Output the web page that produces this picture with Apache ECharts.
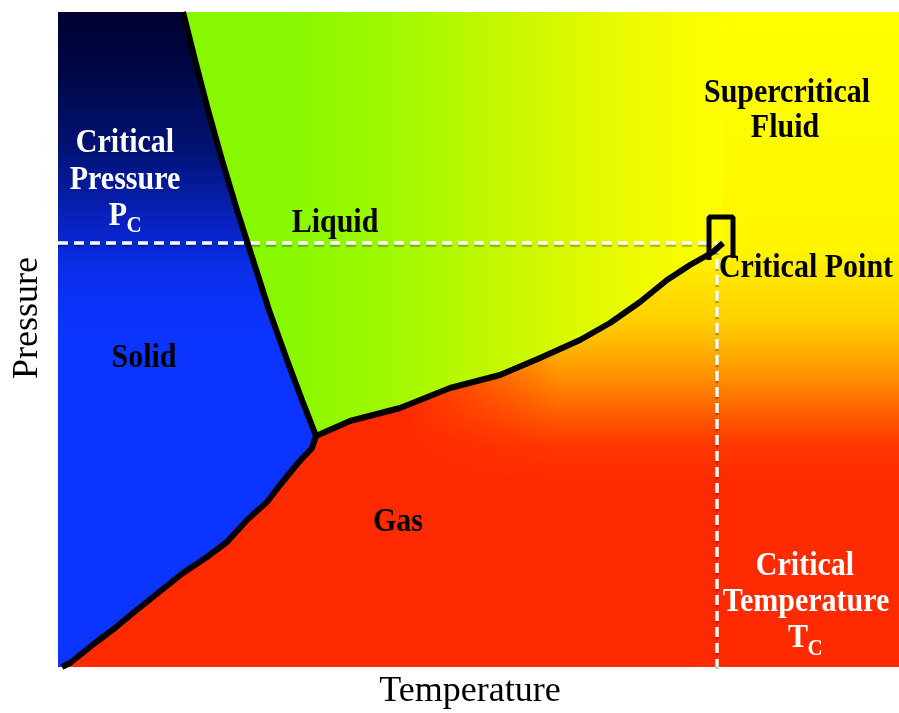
<!DOCTYPE html>
<html>
<head>
<meta charset="utf-8">
<title>Phase diagram</title>
<script src="https://cdn.jsdelivr.net/npm/echarts@6/dist/echarts.min.js"></script>
<style>
html, body { margin: 0; padding: 0; background: #fff; }
#chart { width: 899px; height: 713px; }
</style>
</head>
<body>
<div id="chart"></div>
<script>
// temperature (x) and pressure (y) in arbitrary units
const tMax = 841;
const pMax = 655;

// solid / liquid boundary, from the top edge down to the triple point
const meltCurve = [[125, 655], [137, 607], [150, 557], [164, 507], [179, 457],
  [195, 407], [211, 357], [229, 307], [244, 267], [258, 231]];
// solid / gas boundary, from the bottom edge up to the triple point
const sublimCurve = [[4, 0], [12, 4], [37, 24], [57, 39], [75, 54], [95, 70],
  [125, 94], [149, 110], [169, 125], [189, 147], [209, 165], [222, 182],
  [240, 204], [254, 219], [258, 231]];
// liquid / gas boundary, from the triple point up to the critical point
const vaporCurve = [[258, 231], [292, 246], [342, 259], [392, 279], [442, 292],
  [482, 309], [522, 327], [552, 344], [582, 365], [609, 387], [632, 402],
  [655, 415], [665, 424]];
const criticalT = 659;
const criticalP = 424;
// small open box marking the critical point
const criticalBox = [[651, 407], [651, 450], [675, 450], [675, 409]];

const vaporEnd = vaporCurve[vaporCurve.length - 1][0];
const sublimRev = sublimCurve.slice().reverse();

const regions = [
  { name: "fluid", points: meltCurve.concat(sublimRev, [[tMax, 0], [tMax, pMax]]) },
  { name: "solid", points: [[0, pMax]].concat(meltCurve, sublimRev, [[0, 0]]) },
  { name: "liquid", points: meltCurve.concat(vaporCurve, [[vaporEnd, pMax]]) },
  { name: "gas", points: vaporCurve.concat([[vaporEnd, 0]], sublimCurve) }
];

function grad(a, b, stops) {
  return { type: "linear", x: a[0], y: a[1], x2: b[0], y2: b[1], global: true,
    colorStops: stops.map(s => ({ offset: s[0], color: s[1] })) };
}

function regionFill(name, api) {
  const top = api.coord([0, pMax]);
  const bottom = api.coord([0, 0]);
  if (name === "fluid") {
    return grad(top, bottom, [[0, "#ffff00"], [0.36, "#fff600"], [0.47, "#ffd000"],
      [0.54, "#ffa000"], [0.6, "#ff6a00"], [0.66, "#ff3800"], [0.72, "#ff2a00"], [1, "#ff2a00"]]);
  }
  if (name === "solid") {
    return grad(top, bottom, [[0, "#000030"], [0.1, "#000848"], [0.21, "#021274"],
      [0.32, "#0822c0"], [0.39, "#0a2ee8"], [0.49, "#0c34ff"], [1, "#0c34ff"]]);
  }
  if (name === "liquid") {
    return grad(api.coord([232, 0]), api.coord([672, 0]), [[0, "#88f800"], [0.25, "#a2f800"],
      [0.52, "#cbf800"], [0.8, "#effb00"], [1, "#ffff00"]]);
  }
  return grad(api.coord([242, 0]), api.coord([502, 0]), [[0, "rgba(255,42,0,1)"],
    [0.4, "rgba(255,42,0,1)"], [1, "rgba(255,42,0,0)"]]);
}

function lineSeries(data, style) {
  return { type: "line", data: data, showSymbol: false, silent: true,
    lineStyle: style, z: 3 };
}

const labelFont = "Liberation Serif";
function label(text, x, y, color, size) {
  return { type: "text", x: x, y: y, scaleY: 1.1, silent: true, z: 100,
    style: { text: text, fill: color, font: "bold " + (size || 30) + "px '" + labelFont + "'",
      align: "center", verticalAlign: "middle" } };
}

const dashed = { color: "#fff", width: 3.5, type: [10, 6],
  shadowColor: "rgba(0,0,0,0.3)", shadowBlur: 1, shadowOffsetY: 2 };
const border = { color: "#000", width: 6, join: "round" };

let option = {
  animation: false,
  grid: { left: 58, top: 12, right: 0, bottom: 46 },
  xAxis: { type: "value", min: 0, max: tMax, show: false },
  yAxis: { type: "value", min: 0, max: pMax, show: false },
  series: [
    {
      type: "custom",
      silent: true,
      data: regions.map((r, i) => i),
      renderItem: function (params, api) {
        const r = regions[params.dataIndex];
        return { type: "polygon", shape: { points: r.points.map(p => api.coord(p)) },
          style: { fill: regionFill(r.name, api) } };
      },
      z: 1
    },
    lineSeries([[0, criticalP], [criticalT, criticalP]], dashed),
    lineSeries([[criticalT, criticalP], [criticalT, 0]], dashed),
    lineSeries(meltCurve, border),
    lineSeries(sublimCurve, border),
    lineSeries(vaporCurve, border),
    lineSeries(criticalBox, { color: "#000", width: 5 })
  ],
  graphic: [
    label("Critical", 125, 143, "#fff"),
    label("Pressure", 125, 180, "#fff"),
    label("P", 118, 216, "#fff"),
    label("C", 134, 226, "#fff", 21),
    label("Liquid", 335, 223, "#000"),
    label("Solid", 144, 358, "#000"),
    label("Gas", 398, 522, "#000"),
    label("Supercritical", 787, 93, "#000"),
    label("Fluid", 785, 128, "#000"),
    label("Critical Point", 806, 268, "#000"),
    label("Critical", 805, 566, "#fff"),
    label("Temperature", 806, 602, "#fff"),
    label("T", 798, 638, "#fff"),
    label("C", 815, 649, "#fff", 21),
    { type: "text", x: 470, y: 692, silent: true,
      style: { text: "Temperature", fill: "#000", font: "36px '" + labelFont + "'",
        align: "center", verticalAlign: "middle" } },
    { type: "text", x: 28, y: 318, rotation: Math.PI / 2, silent: true,
      style: { text: "Pressure", fill: "#000", font: "36px '" + labelFont + "'",
        align: "center", verticalAlign: "middle" } }
  ]
};

let myChart = echarts.init(document.getElementById("chart"));
myChart.setOption(option);
window.addEventListener("resize", function () {
  myChart.resize();
});
</script>
</body>
</html>
